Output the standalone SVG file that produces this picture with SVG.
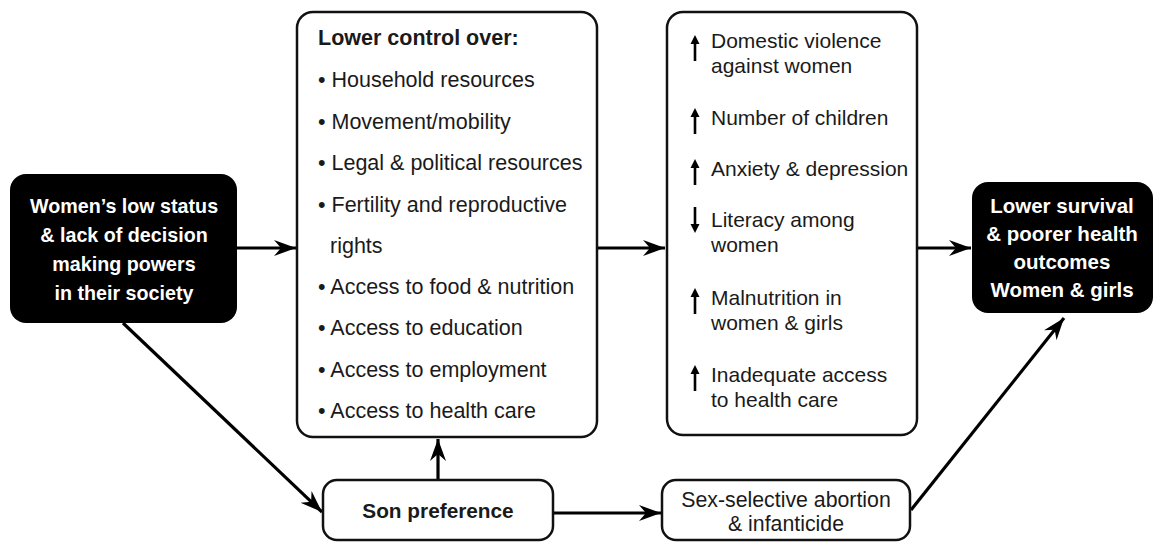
<svg xmlns="http://www.w3.org/2000/svg" width="1155" height="543" viewBox="0 0 1155 543">
<defs>
<style>
.box{fill:#fff;stroke:#111;stroke-width:2.5}
.dark{fill:#000;stroke:none}
.t{font-family:"Liberation Sans",Arial,sans-serif;font-size:21.5px;fill:#1a1a1a}
.r{font-size:21px}
.b{font-weight:bold}
.sn{font-size:20.8px}
.sx{font-size:21.3px}
.w{fill:#fff;font-family:"Liberation Sans",Arial,sans-serif;font-size:19.7px;font-weight:bold;text-anchor:middle}
.w2{font-size:20.5px}
.c{text-anchor:middle}
.con{stroke:#000;stroke-width:3.2;fill:none}
.sa{stroke:#000;stroke-width:2.6;fill:none}
</style>
<marker id="ah" markerUnits="userSpaceOnUse" markerWidth="24" markerHeight="18" refX="22" refY="9" orient="auto">
<path d="M0,1 L22,9 L0,17 L7,9 z" fill="#000"/>
</marker>
</defs>

<g id="connectors">
<line class="con" x1="237" y1="248" x2="296" y2="248" marker-end="url(#ah)"/>
<line class="con" x1="597" y1="248" x2="665" y2="248" marker-end="url(#ah)"/>
<line class="con" x1="917" y1="248" x2="971" y2="248" marker-end="url(#ah)"/>
<line class="con" x1="123" y1="323" x2="322" y2="512" marker-end="url(#ah)"/>
<line class="con" x1="438" y1="480" x2="438" y2="439" marker-end="url(#ah)"/>
<line class="con" x1="553" y1="513" x2="661" y2="513" marker-end="url(#ah)"/>
<line class="con" x1="911" y1="510" x2="1064" y2="318" marker-end="url(#ah)"/>
</g>

<g id="node-status">
<rect class="dark" x="10" y="174" width="227" height="149" rx="16"/>
<text class="w" x="124" y="213">Women’s low status</text>
<text class="w" x="124" y="242">&amp; lack of decision</text>
<text class="w" x="124" y="271">making powers</text>
<text class="w" x="124" y="300">in their society</text>
</g>

<g id="node-control">
<rect class="box" x="297" y="12" width="300" height="425" rx="16"/>
<text class="t b" x="318" y="45">Lower control over:</text>
<text class="t" x="318" y="87">• Household resources</text>
<text class="t" x="318" y="129">• Movement/mobility</text>
<text class="t" x="318" y="170">• Legal &amp; political resources</text>
<text class="t" x="318" y="212">• Fertility and reproductive</text>
<text class="t" x="330" y="253">rights</text>
<text class="t" x="318" y="294">• Access to food &amp; nutrition</text>
<text class="t" x="318" y="335">• Access to education</text>
<text class="t" x="318" y="377">• Access to employment</text>
<text class="t" x="318" y="418">• Access to health care</text>
</g>

<g id="node-effects">
<rect class="box" x="667" y="12" width="250" height="423" rx="16"/>
<g id="updown">
<line class="sa" x1="695" y1="61" x2="695" y2="42"/><path d="M690.5,44 L695,35 L699.5,44 z"/>
<line class="sa" x1="695" y1="134" x2="695" y2="115"/><path d="M690.5,117 L695,108 L699.5,117 z"/>
<line class="sa" x1="695" y1="185" x2="695" y2="166"/><path d="M690.5,168 L695,159 L699.5,168 z"/>
<line class="sa" x1="695" y1="207" x2="695" y2="226"/><path d="M690.5,224 L695,233 L699.5,224 z"/>
<line class="sa" x1="695" y1="314" x2="695" y2="295"/><path d="M690.5,297 L695,288 L699.5,297 z"/>
<line class="sa" x1="695" y1="391" x2="695" y2="372"/><path d="M690.5,374 L695,365 L699.5,374 z"/>
</g>
<text class="t r" x="711" y="48">Domestic violence</text>
<text class="t r" x="711" y="73">against women</text>
<text class="t r" x="711" y="125">Number of children</text>
<text class="t r" x="711" y="176">Anxiety &amp; depression</text>
<text class="t r" x="711" y="227">Literacy among</text>
<text class="t r" x="711" y="252">women</text>
<text class="t r" x="711" y="305">Malnutrition in</text>
<text class="t r" x="711" y="330">women &amp; girls</text>
<text class="t r" x="711" y="382">Inadequate access</text>
<text class="t r" x="711" y="407">to health care</text>
</g>

<g id="node-outcome">
<rect class="dark" x="972" y="182" width="181" height="131" rx="16"/>
<text class="w w2" x="1062" y="213">Lower survival</text>
<text class="w w2" x="1062" y="241">&amp; poorer health</text>
<text class="w w2" x="1062" y="269">outcomes</text>
<text class="w w2" x="1062" y="297">Women &amp; girls</text>
</g>

<g id="node-son">
<rect class="box" x="323" y="480" width="230" height="60" rx="14"/>
<text class="t b sn c" x="438" y="518">Son preference</text>
</g>

<g id="node-sex">
<rect class="box" x="662" y="480" width="248" height="60" rx="14"/>
<text class="t sx c" x="786" y="507">Sex-selective abortion</text>
<text class="t sx c" x="786" y="531">&amp; infanticide</text>
</g>
</svg>
